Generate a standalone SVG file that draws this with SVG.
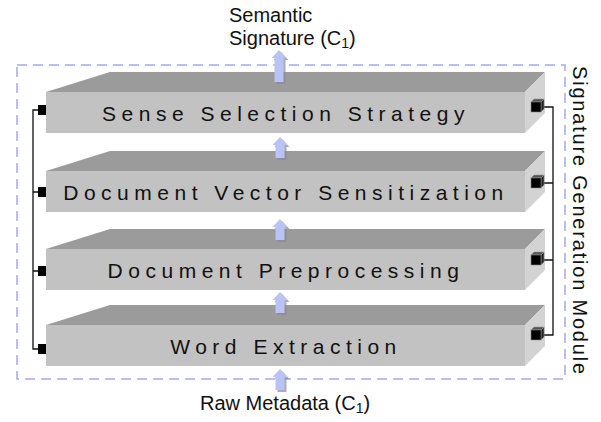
<svg xmlns="http://www.w3.org/2000/svg" width="601" height="422" viewBox="0 0 601 422">
  <style>
    .front { fill: #c2c2c2; }
    .top { fill: #9b9b9b; }
    .side { fill: #d3d3d3; }
    .label { font-family: "Liberation Sans", Arial, sans-serif; font-size: 21px; fill: #111; letter-spacing: 5.5px; text-anchor: middle; }
    .caption { font-family: "Liberation Sans", Arial, sans-serif; font-size: 20px; fill: #111; }
    .sub { font-size: 14px; }
    .wire { fill: none; stroke: #111; stroke-width: 1.3; }
    .pin { fill: #000; }
    .cube-top { fill: #555; stroke: #999; stroke-width: 0.6; }
    .cube-side { fill: #222; stroke: #999; stroke-width: 0.6; }
    .cube-front { fill: #000; stroke: #888; stroke-width: 0.6; }
    .flow { fill: #b9c3f6; }
    .flow-shadow { fill: #8c8c8c; opacity: 0.7; }
  </style>
  <defs>
    <!-- slab: front face, top face and right face of an extruded bar -->
    <g id="slab">
      <polygon class="top" points="46,20 110,0 545,0 525,20"/>
      <polygon class="side" points="525,20 545,0 545,41 525,61"/>
      <rect class="front" x="46" y="20" width="479" height="41"/>
    </g>
    <!-- small black cube used as the right-hand port -->
    <g id="cube">
      <polygon class="cube-top" points="0,3 3,0 13,0 10,3"/>
      <polygon class="cube-side" points="10,3 13,0 13,10 10,13"/>
      <rect class="cube-front" x="0" y="3" width="10" height="10"/>
    </g>
    <!-- upward block arrow, tip at origin -->
    <g id="up-short">
      <polygon class="flow-shadow" points="2,2 9.5,10 6.5,10 6.5,23 -2.5,23 -2.5,10 -5.5,10"/>
      <polygon class="flow" points="0,0 7.5,8 4.5,8 4.5,21 -4.5,21 -4.5,8 -7.5,8"/>
    </g>
    <g id="up-long">
      <polygon class="flow-shadow" points="2,2 9.5,10 6.5,10 6.5,34 -2.5,34 -2.5,10 -5.5,10"/>
      <polygon class="flow" points="0,0 7.5,8 4.5,8 4.5,32 -4.5,32 -4.5,8 -7.5,8"/>
    </g>
  </defs>

  <rect width="601" height="422" fill="#fff"/>

  <!-- module boundary -->
  <g id="module">
    <rect x="17" y="65" width="548" height="314" fill="none" stroke="#a3aaf0" stroke-width="1.5" stroke-dasharray="10 6"/>
    <text class="caption" font-size="19" letter-spacing="1.8" transform="translate(573,66) rotate(90)">Signature Generation Module</text>
  </g>

  <!-- processing layers -->
  <g id="sense-selection">
    <use href="#slab" transform="translate(0,72)"/>
    <text class="label" x="286" y="121">Sense Selection Strategy</text>
  </g>
  <g id="vector-sensitization">
    <use href="#slab" transform="translate(0,151)"/>
    <text class="label" x="286" y="200">Document Vector Sensitization</text>
  </g>
  <g id="preprocessing">
    <use href="#slab" transform="translate(0,229)"/>
    <text class="label" x="286" y="278">Document Preprocessing</text>
  </g>
  <g id="word-extraction">
    <use href="#slab" transform="translate(0,305)"/>
    <text class="label" x="286" y="354">Word Extraction</text>
  </g>

  <!-- input / output labels -->
  <g id="output">
    <text class="caption" x="229" y="22">Semantic</text>
    <text class="caption" x="229" y="45">Signature (C<tspan class="sub" dy="3">1</tspan><tspan dy="-3">)</tspan></text>
  </g>
  <g id="input">
    <text class="caption" x="200" y="410">Raw Metadata (C<tspan class="sub" dy="3">1</tspan><tspan dy="-3">)</tspan></text>
  </g>

  <!-- connectors: data-flow arrows and side wiring -->
  <g id="connectors">
    <use href="#up-long" transform="translate(279,50)"/>
    <use href="#up-short" transform="translate(280,137)"/>
    <use href="#up-short" transform="translate(280,219)"/>
    <use href="#up-short" transform="translate(280,292)"/>
    <use href="#up-short" transform="translate(280,369)"/>

    <!-- left bus -->
    <path class="wire" d="M40,110 H33 V349 H40 M33,192 H40 M33,271 H40"/>
    <rect class="pin" x="38" y="105" width="8" height="10"/>
    <rect class="pin" x="38" y="187" width="8" height="10"/>
    <rect class="pin" x="38" y="266" width="8" height="10"/>
    <rect class="pin" x="38" y="344" width="8" height="10"/>

    <!-- right bus -->
    <path class="wire" d="M543,107 H553 V335 H543 M543,183 H553 M543,260 H553"/>
    <use href="#cube" transform="translate(531,99)"/>
    <use href="#cube" transform="translate(531,175)"/>
    <use href="#cube" transform="translate(531,252)"/>
    <use href="#cube" transform="translate(531,327)"/>
  </g>
</svg>
